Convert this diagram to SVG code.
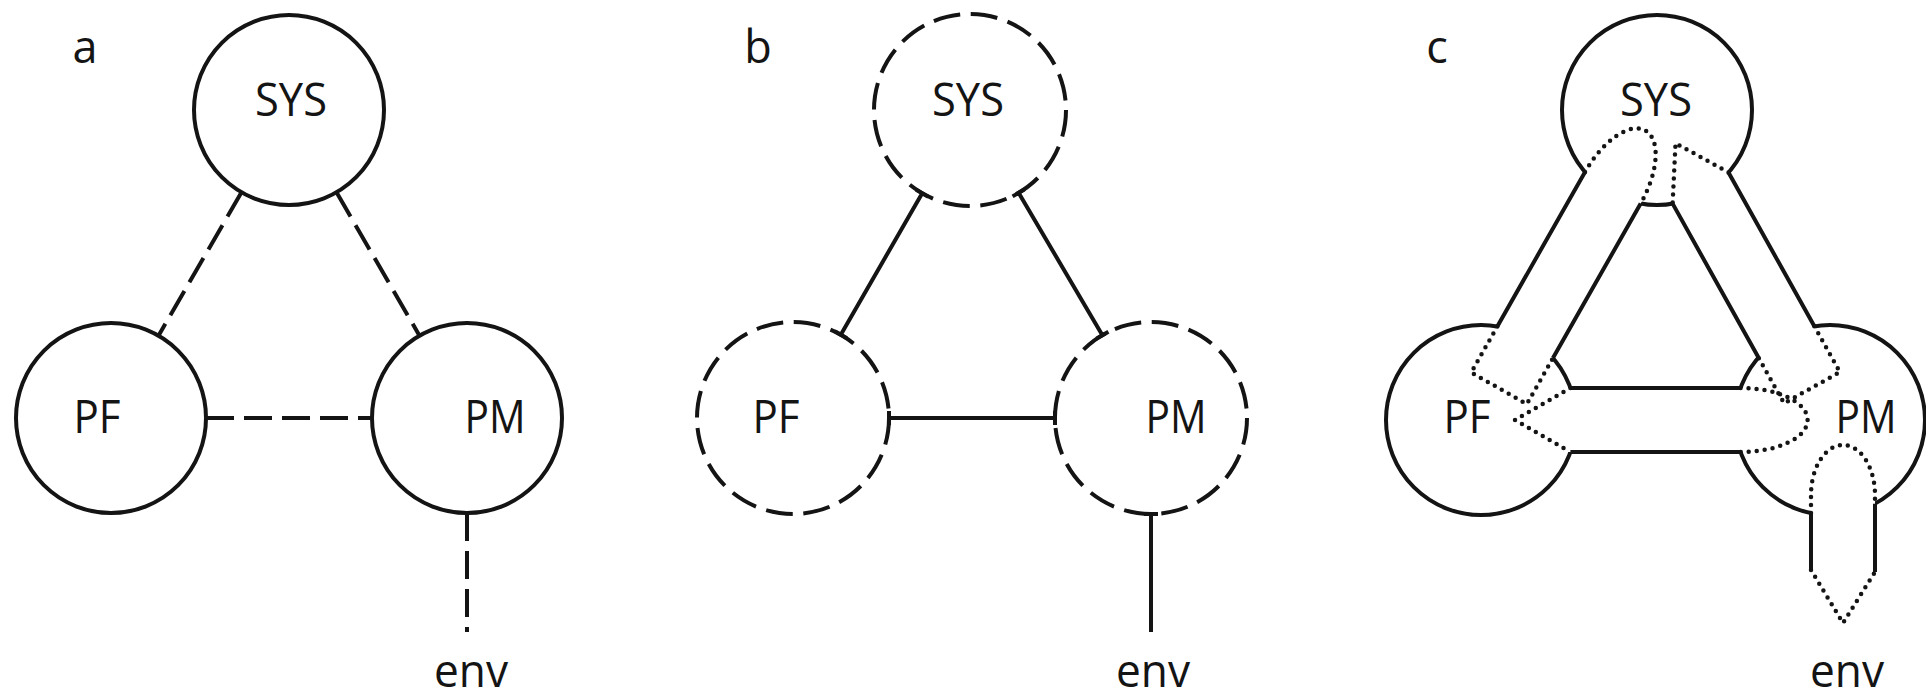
<svg xmlns="http://www.w3.org/2000/svg" width="1926" height="700" viewBox="0 0 1926 700">
<style>
.bg{fill:#ffffff}
.node{fill:#ffffff;stroke:#141414;stroke-width:4}
.dnode{fill:#ffffff;stroke:#141414;stroke-width:4;stroke-dasharray:27 10.7}
.dash{fill:none;stroke:#141414;stroke-width:4;stroke-dasharray:28 10}
.solid{fill:none;stroke:#141414;stroke-width:4}
.dot{fill:none;stroke:#141414;stroke-width:4.5;stroke-dasharray:0 8;stroke-linecap:round;stroke-linejoin:round}
.pipe{fill:#ffffff;stroke:none}
.lbl{font-family:'Open Sans','Noto Sans','Liberation Sans',sans-serif;font-size:45px;fill:#141414;text-anchor:middle}
</style>
<rect class="bg" x="0" y="0" width="1926" height="700"/>

<!-- Panel a -->
<g id="panel-a">
  <text class="lbl" x="85" y="63">a</text>
  <g id="a-connectors">
    <line class="dash" x1="241.5" y1="192.3" x2="158.5" y2="335.7"/>
    <line class="dash" x1="336.5" y1="192.3" x2="419.5" y2="335.7"/>
    <line class="dash" x1="206" y1="418" x2="372" y2="418"/>
    <line class="dash" x1="467" y1="513" x2="467" y2="632"/>
  </g>
  <g id="a-SYS"><circle class="node" cx="289" cy="110" r="95"/><text class="lbl" x="291" y="116" textLength="72" lengthAdjust="spacingAndGlyphs">SYS</text></g>
  <g id="a-PF"><circle class="node" cx="111" cy="418" r="95"/><text class="lbl" x="97" y="433" textLength="47" lengthAdjust="spacingAndGlyphs">PF</text></g>
  <g id="a-PM"><circle class="node" cx="467" cy="418" r="95"/><text class="lbl" x="495" y="433" textLength="61" lengthAdjust="spacingAndGlyphs">PM</text></g>
  <g id="a-env"><text class="lbl" x="471" y="687" textLength="74" lengthAdjust="spacingAndGlyphs">env</text></g>
</g>

<!-- Panel b -->
<g id="panel-b">
  <text class="lbl" x="758" y="63">b</text>
  <g id="b-SYS"><circle class="dnode" cx="970" cy="110" r="96"/><text class="lbl" x="968" y="116" textLength="72" lengthAdjust="spacingAndGlyphs">SYS</text></g>
  <g id="b-PF"><circle class="dnode" cx="793" cy="418" r="96"/><text class="lbl" x="776" y="433" textLength="47" lengthAdjust="spacingAndGlyphs">PF</text></g>
  <g id="b-PM"><circle class="dnode" cx="1151" cy="418" r="96"/><text class="lbl" x="1176" y="433" textLength="61" lengthAdjust="spacingAndGlyphs">PM</text></g>
  <g id="b-env"><text class="lbl" x="1153" y="687" textLength="74" lengthAdjust="spacingAndGlyphs">env</text></g>
  <g id="b-connectors">
    <path class="solid" d="M922.2 193.2 L840.8 334.8 M916.1 189.7 L928.3 196.7 M834.7 331.3 L846.9 338.3"/>
    <path class="solid" d="M1018.6 192.8 L1102.4 335.2 M1024.6 189.3 L1012.6 196.4 M1108.4 331.7 L1096.4 338.8"/>
    <path class="solid" d="M889 418 L1055 418 M889 411 L889 425 M1055 411 L1055 425"/>
    <path class="solid" d="M1151 514 L1151 632 M1144 514 L1158 514"/>
  </g>
</g>

<!-- Panel c -->
<g id="panel-c">
  <text class="lbl" x="1437" y="63">c</text>
  <g id="c-nodes">
    <g id="c-SYS"><circle class="node" cx="1657" cy="110" r="95"/></g>
    <g id="c-PF"><circle class="node" cx="1481" cy="420" r="95"/></g>
    <g id="c-PM"><circle class="node" cx="1830" cy="420" r="95"/></g>
  </g>
  <g id="c-connectors">
    <polygon class="pipe" points="1629.2,94.2 1684.8,125.8 1508.8,435.8 1453.2,404.2"/>
    <polygon class="pipe" points="1684.9,94.4 1629.1,125.6 1802.1,435.6 1857.9,404.4"/>
    <rect class="pipe" x="1481" y="388" width="349" height="64"/>
    <rect class="pipe" x="1811" y="420" width="64" height="150"/>
    <path class="solid" d="M1585.03 171.94 L1497.30 326.47 M1640.69 203.54 L1552.96 358.07"/>
    <path class="solid" d="M1728.51 172.47 L1814.37 326.33 M1672.63 203.65 L1758.49 357.51"/>
    <path class="solid" d="M1570.4 388 L1740.6 388 M1570.4 452 L1740.6 452"/>
    <path class="solid" d="M1811 513.1 L1811 570 M1875 503.7 L1875 572"/>
    <path class="dot" d="M1585.03 171.94 A66 32 119.6 0 1 1640.69 203.54"/>
    <path class="dot" d="M1497.30 326.47 L1471.19 372.47 L1526.85 404.07 L1552.96 358.07"/>
    <path class="dot" d="M1728.51 172.47 L1675.52 143.18 L1672.63 203.65"/>
    <path class="dot" d="M1814.37 326.33 L1839.90 372.09 L1784.02 403.27 L1758.49 357.51"/>
    <path class="dot" d="M1740.6 388 A67 32 0 0 1 1740.6 452"/>
    <path class="dot" d="M1570.4 388 L1515 420 L1570.4 452"/>
    <path class="dot" d="M1811 513.1 L1811 495 A32 50 0 0 1 1875 495 L1875 503.7"/>
    <path class="dot" d="M1811 570 L1843 623 L1875 572"/>
  </g>
  <text class="lbl" x="1656" y="116" textLength="72" lengthAdjust="spacingAndGlyphs">SYS</text>
  <text class="lbl" x="1467" y="433" textLength="47" lengthAdjust="spacingAndGlyphs">PF</text>
  <text class="lbl" x="1866" y="433" textLength="61" lengthAdjust="spacingAndGlyphs">PM</text>
  <g id="c-env"><text class="lbl" x="1847" y="687" textLength="74" lengthAdjust="spacingAndGlyphs">env</text></g>
</g>
</svg>
